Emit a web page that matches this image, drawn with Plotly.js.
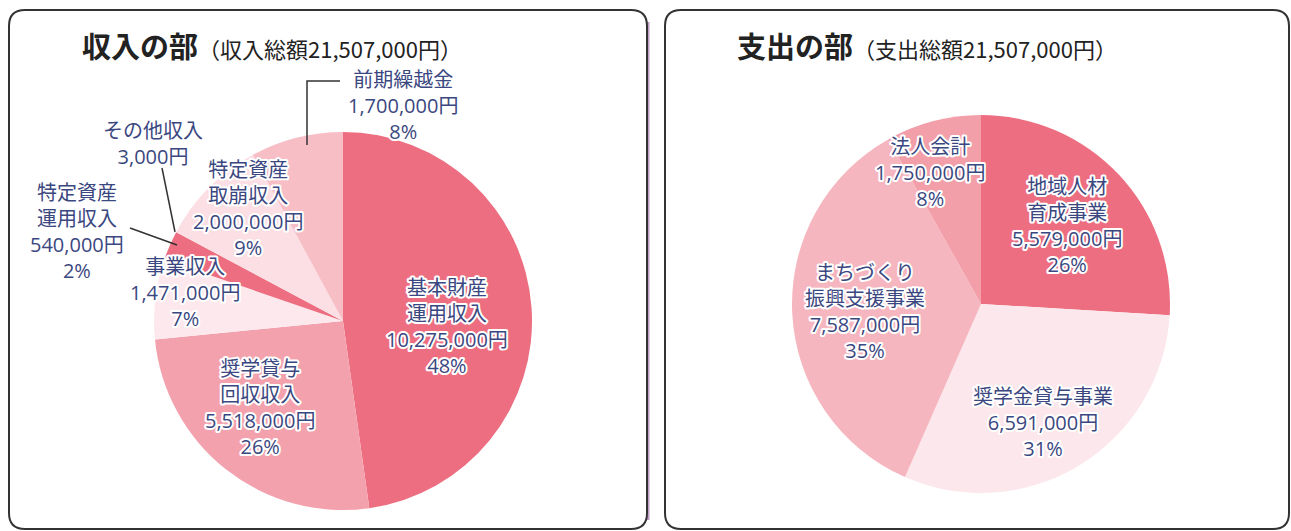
<!DOCTYPE html>
<html><head><meta charset="utf-8">
<script src="https://cdn.plot.ly/plotly-3.0.1.min.js"></script>
<style>
html,body{margin:0;padding:0;background:#fff;}
#chart{width:1291px;height:531px;}
.annotation-text{paint-order:stroke fill;stroke:#ffffff;stroke-width:4px;stroke-linejoin:round;}
</style>
</head><body>
<div id="chart"></div>
<script>
// ---- data ----
const incomeTitle = '収入の部';
const incomeSubtitle = '（収入総額21,507,000円）';
const incomeLabels = ['基本財産<br>運用収入', '奨学貸与<br>回収収入', '事業収入', '特定資産<br>運用収入', 'その他収入', '特定資産<br>取崩収入', '前期繰越金'];
const incomeValues = [10275000, 5518000, 1471000, 540000, 3000, 2000000, 1700000];
const incomePct = [48, 26, 7, 2, null, 9, 8];

const expenseTitle = '支出の部';
const expenseSubtitle = '（支出総額21,507,000円）';
const expenseLabels = ['地域人材<br>育成事業', '奨学金貸与事業', 'まちづくり<br>振興支援事業', '法人会計'];
const expenseValues = [5579000, 6591000, 7587000, 1750000];
const expensePct = [26, 31, 35, 8];

// ---- styles / layout ----
const W = 1291, H = 531;
const px = x => x / W;
const py = y => 1 - y / H;
const incomeColors = ['#ed6e80', '#f3a2ad', '#fde9ed', '#ed6e80', '#f3a2ad', '#fbdfe4', '#f7bec6'];
const expenseColors = ['#ed6e80', '#fce8ec', '#f6b6bf', '#f29fa9'];
const incomeLabelPos = [[447,326],[260,407],[185,292],[77,231],[153,144],[248,208],[403,105]];
const expenseLabelPos = [[1067,225],[1043,422],[865,311],[930,172]];
const textColor = '#3b4780';
const FONT = '"Noto Sans CJK JP", "Noto Sans", sans-serif';
const LABEL_FONT = '"Open Sans", "Noto Sans CJK JP", sans-serif';

function fmt(v){ return v.toLocaleString('en-US') + '円'; }
function labelText(lbl, v, p){
  let t = lbl + '<br>' + fmt(v);
  if (p !== null) t += '<br>' + p + '%';
  return t;
}

const traces = [
  {type:'pie', labels:incomeLabels, values:incomeValues, sort:false, direction:'clockwise', rotation:0,
   marker:{colors:incomeColors, line:{width:0}}, textinfo:'none', hoverinfo:'label+value',
   domain:{x:[px(154), px(532)], y:[py(510), py(132)]}, showlegend:false},
  {type:'pie', labels:expenseLabels, values:expenseValues, sort:false, direction:'clockwise', rotation:0,
   marker:{colors:expenseColors, line:{width:0}}, textinfo:'none', hoverinfo:'label+value',
   domain:{x:[px(792), px(1170)], y:[py(493), py(115)]}, showlegend:false}
];

const annotations = [];
incomeLabels.forEach((l,i)=>{
  annotations.push({xref:'paper', yref:'paper', x:px(incomeLabelPos[i][0]), y:py(incomeLabelPos[i][1]),
    xanchor:'center', yanchor:'middle', showarrow:false, align:'center',
    text:labelText(l, incomeValues[i], incomePct[i]), font:{family:LABEL_FONT, size:20, color:textColor}});
});
expenseLabels.forEach((l,i)=>{
  annotations.push({xref:'paper', yref:'paper', x:px(expenseLabelPos[i][0]), y:py(expenseLabelPos[i][1]),
    xanchor:'center', yanchor:'middle', showarrow:false, align:'center',
    text:labelText(l, expenseValues[i], expensePct[i]), font:{family:LABEL_FONT, size:20, color:textColor}});
});
annotations.push({xref:'paper', yref:'paper', x:px(80), y:py(45), xanchor:'left', yanchor:'middle', showarrow:false,
  text:'<b><span style="font-size:29px">' + incomeTitle + '</span></b>' + incomeSubtitle, font:{family:FONT, size:22, color:'#222'}});
annotations.push({xref:'paper', yref:'paper', x:px(735), y:py(45), xanchor:'left', yanchor:'middle', showarrow:false,
  text:'<b><span style="font-size:29px">' + expenseTitle + '</span></b>' + expenseSubtitle, font:{family:FONT, size:22, color:'#222'}});

function roundBox(x0,y0,x1,y1,r){
  return `M${px(x0+r)},${py(y0)} L${px(x1-r)},${py(y0)} Q${px(x1)},${py(y0)} ${px(x1)},${py(y0+r)} L${px(x1)},${py(y1-r)} Q${px(x1)},${py(y1)} ${px(x1-r)},${py(y1)} L${px(x0+r)},${py(y1)} Q${px(x0)},${py(y1)} ${px(x0)},${py(y1-r)} L${px(x0)},${py(y0+r)} Q${px(x0)},${py(y0)} ${px(x0+r)},${py(y0)} Z`;
}
const shapes = [
  {type:'line', xref:'paper', yref:'paper', x0:px(648), x1:px(648), y0:py(22), y1:py(520), line:{color:'rgba(130,60,140,0.5)', width:3}},
  {type:'path', xref:'paper', yref:'paper', path:roundBox(9,10,647,529,16), line:{color:'#333', width:2}},
  {type:'path', xref:'paper', yref:'paper', path:roundBox(665,10,1289,529,16), line:{color:'#333', width:2}},
  {type:'path', xref:'paper', yref:'paper', path:`M${px(340)},${py(81)} L${px(307)},${py(81)} L${px(307)},${py(145)}`, line:{color:'#333', width:1.5}},
  {type:'line', xref:'paper', yref:'paper', x0:px(162), y0:py(168), x1:px(175), y1:py(232), line:{color:'#333', width:1.5}},
  {type:'line', xref:'paper', yref:'paper', x0:px(130), y0:py(228), x1:px(177), y1:py(245), line:{color:'#333', width:1.5}}
];

const layout = {
  width:W, height:H, margin:{l:0,r:0,t:0,b:0}, paper_bgcolor:'#fff', plot_bgcolor:'#fff',
  showlegend:false, annotations:annotations, shapes:shapes, font:{family:FONT}
};
Plotly.newPlot('chart', traces, layout, {staticPlot:true});
</script>
</body></html>
